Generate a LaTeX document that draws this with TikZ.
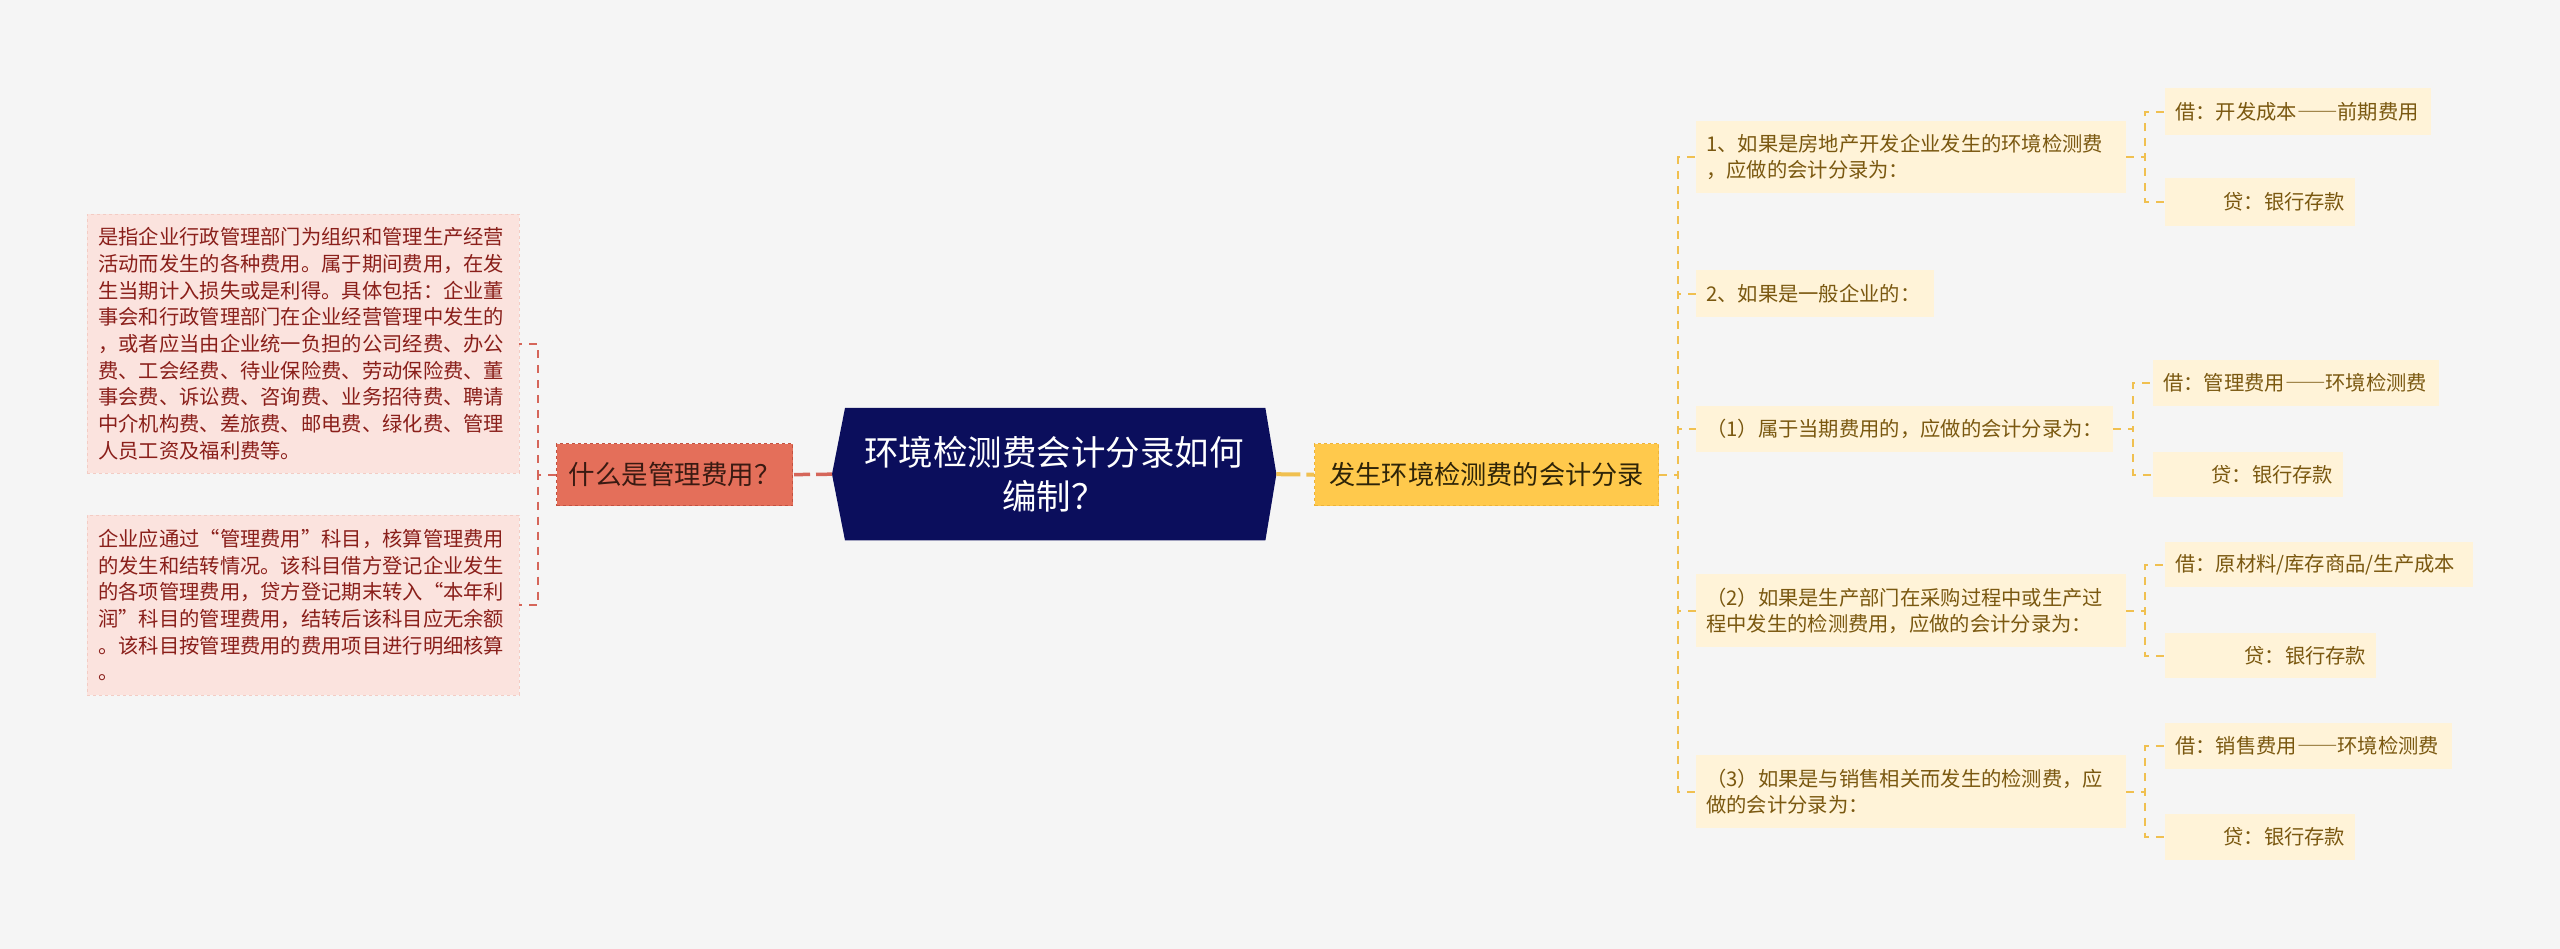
\documentclass[tikz,border=0pt]{standalone}
\usepackage{fontspec}
\setmainfont{Noto Sans CJK SC}
\usetikzlibrary{backgrounds}

\definecolor{pagebg}{HTML}{F5F5F5}
\definecolor{rootnavy}{HTML}{0B0E5C}
\definecolor{whatfill}{HTML}{E46F5A}
\definecolor{whatedge}{HTML}{C4513F}
\definecolor{whattext}{HTML}{3A1A12}
\definecolor{deffill}{HTML}{FBE3DE}
\definecolor{defedge}{HTML}{F3CCC4}
\definecolor{deftext}{HTML}{8A1F1A}
\definecolor{acctfill}{HTML}{FFC94C}
\definecolor{acctedge}{HTML}{EDB338}
\definecolor{accttext}{HTML}{2E2408}
\definecolor{casefill}{HTML}{FFF3D8}
\definecolor{casetext}{HTML}{7A5810}
\definecolor{redline}{HTML}{D5665A}
\definecolor{yelline}{HTML}{F0C050}

\newcommand{\longdash}{{\addfontfeature{RawFeature=+fwid}——}}

\tikzset{
  defbox/.style={fill=deffill, draw=defedge, dashed, text=deftext, align=left,
    font=\fontsize{20.3}{26.7}\selectfont, text width=410pt, inner xsep=11pt, inner ysep=0pt},
  casebox/.style={fill=casefill, text=casetext, align=left,
    font=\fontsize{20.3}{26}\selectfont, inner xsep=10pt, inner ysep=0pt},
  crbox/.style={casebox, align=right},
  redthin/.style={draw=redline, line width=2pt, dash pattern=on 8pt off 7pt},
  yelthin/.style={draw=yelline, line width=2pt, dash pattern=on 8pt off 7pt},
}

\begin{document}
\begin{tikzpicture}[x=1pt,y=-1pt]
\useasboundingbox (0,0) rectangle (2560,949);

% Root Node
\draw (832,408) node [anchor=north west, minimum width=444pt, minimum height=132pt, inner sep=0pt,
  text=white, align=center, font=\fontsize{34.5}{44}\selectfont] (root) {环境检测费会计分录如何\\编制？};

% Left Branch
\draw (556,443) node [anchor=north west, minimum width=236pt, minimum height=62pt, inner sep=0pt,
  fill=whatfill, draw=whatedge, dashed, line width=1.2pt, text=whattext, font=\fontsize{26.5}{30}\selectfont] (what) {什么是管理费用？};
% Text Node
\draw (87,214) node [anchor=north west, defbox, minimum height=259pt] (defA) {是指企业行政管理部门为组织和管理生产经营\\活动而发生的各种费用。属于期间费用，在发\\生当期计入损失或是利得。具体包括：企业董\\事会和行政管理部门在企业经营管理中发生的\\，或者应当由企业统一负担的公司经费、办公\\费、工会经费、待业保险费、劳动保险费、董\\事会费、诉讼费、咨询费、业务招待费、聘请\\中介机构费、差旅费、邮电费、绿化费、管理\\人员工资及福利费等。};
% Text Node
\draw (87,515) node [anchor=north west, defbox, minimum height=180pt] (defB) {企业应通过“管理费用”科目，核算管理费用\\的发生和结转情况。该科目借方登记企业发生\\的各项管理费用，贷方登记期末转入“本年利\\润”科目的管理费用，结转后该科目应无余额\\。该科目按管理费用的费用项目进行明细核算\\。};

% Right Branch
\draw (1314,443) node [anchor=north west, minimum width=344pt, minimum height=62pt, inner sep=0pt,
  fill=acctfill, draw=acctedge, dashed, line width=1.2pt, text=accttext, font=\fontsize{26.2}{30}\selectfont] (acct) {发生环境检测费的会计分录};

% Case Nodes
\draw (1696,121) node [anchor=north west, casebox, text width=410pt, minimum height=72pt] (r1) {1、如果是房地产开发企业发生的环境检测费\\，应做的会计分录为：};
\draw (1696,270) node [anchor=north west, casebox, text width=218pt, minimum height=47pt] (r2) {2、如果是一般企业的：};
\draw (1696,406) node [anchor=north west, casebox, text width=397pt, minimum height=46pt] (r3) {（1）属于当期费用的，应做的会计分录为：};
\draw (1696,574) node [anchor=north west, casebox, text width=410pt, minimum height=73pt] (r4) {（2）如果是生产部门在采购过程中或生产过\\程中发生的检测费用，应做的会计分录为：};
\draw (1696,755) node [anchor=north west, casebox, text width=410pt, minimum height=73pt] (r5) {（3）如果是与销售相关而发生的检测费，应\\做的会计分录为：};

% Entry Nodes
\draw (2165,88) node [anchor=north west, casebox, text width=246pt, minimum height=47pt] (d1) {借：开发成本\longdash 前期费用};
\draw (2165,178) node [anchor=north west, crbox, text width=170pt, minimum height=48pt] (c1) {贷：银行存款};
\draw (2153,360) node [anchor=north west, casebox, text width=266pt, minimum height=46pt] (d2) {借：管理费用\longdash 环境检测费};
\draw (2153,452) node [anchor=north west, crbox, text width=170pt, minimum height=45pt] (c2) {贷：银行存款};
\draw (2165,542) node [anchor=north west, casebox, text width=288pt, minimum height=45pt] (d3) {借：原材料/库存商品/生产成本};
\draw (2165,633) node [anchor=north west, crbox, text width=191pt, minimum height=45pt] (c3) {贷：银行存款};
\draw (2165,723) node [anchor=north west, casebox, text width=267pt, minimum height=46pt] (d4) {借：销售费用\longdash 环境检测费};
\draw (2165,814) node [anchor=north west, crbox, text width=170pt, minimum height=46pt] (c4) {贷：银行存款};

% Background and root shape
\begin{scope}[on background layer]
\fill [pagebg] (0,0) rectangle (2560,949);
\fill [rootnavy] (root.west) -- ([xshift=13pt]root.north west) -- ([xshift=-11pt]root.north east) -- (root.east)
  -- ([xshift=-11pt]root.south east) -- ([xshift=13pt]root.south west) -- cycle;
\end{scope}

% Connectors
\draw [draw=redline, line width=3.5pt, dash pattern=on 16pt off 6pt] (root.west) -- (what.east);
\draw [draw=yelline, line width=4pt, dash pattern=on 24pt off 6pt] (root.east) -- (acct.west);
\draw [redthin] (what.west) -- ++(-18,0) |- (defA.east);
\draw [redthin] (what.west) -- ++(-18,0) |- (defB.east);
\foreach \r in {r1,r2,r3,r4,r5}
  \draw [yelthin] (acct.east) -- ++(19,0) |- (\r.west);
\draw [yelthin] (r1.east) -- ++(19,0) |- (d1.west);
\draw [yelthin] (r1.east) -- ++(19,0) |- (c1.west);
\draw [yelthin] (r3.east) -- ++(20,0) |- (d2.west);
\draw [yelthin] (r3.east) -- ++(20,0) |- (c2.west);
\draw [yelthin] (r4.east) -- ++(19,0) |- (d3.west);
\draw [yelthin] (r4.east) -- ++(19,0) |- (c3.west);
\draw [yelthin] (r5.east) -- ++(19,0) |- (d4.west);
\draw [yelthin] (r5.east) -- ++(19,0) |- (c4.west);
\end{tikzpicture}
\end{document}
